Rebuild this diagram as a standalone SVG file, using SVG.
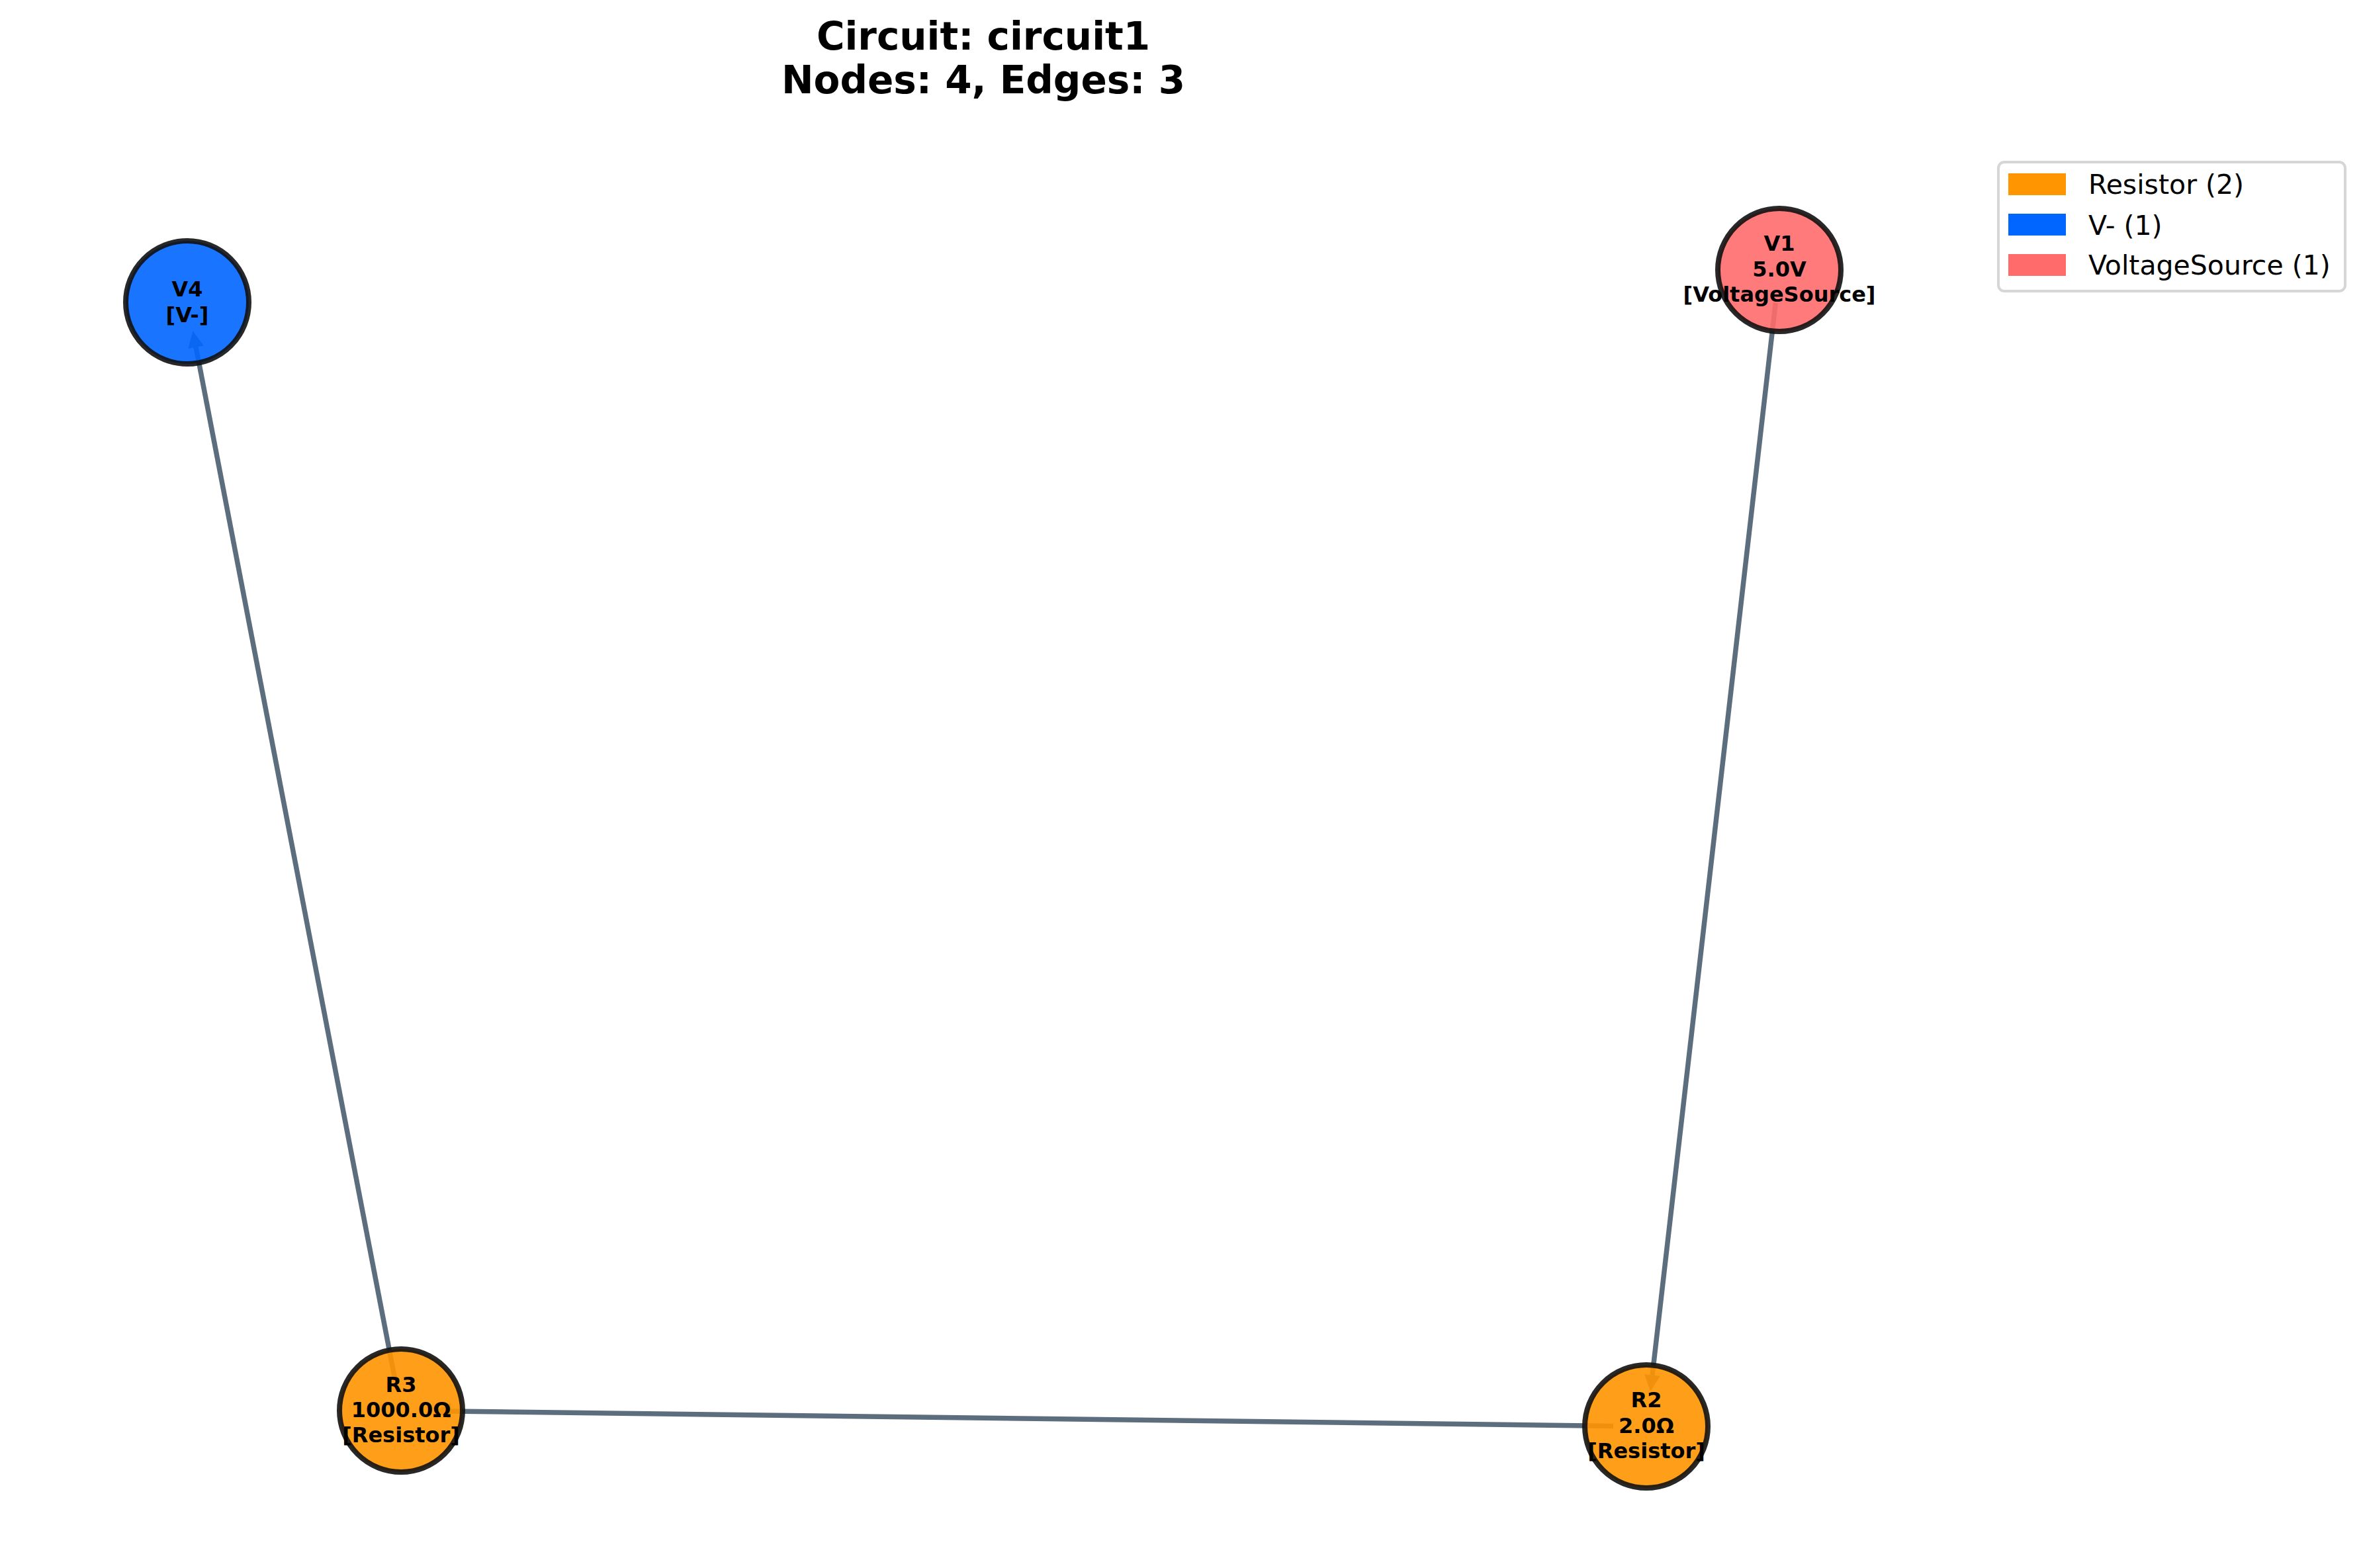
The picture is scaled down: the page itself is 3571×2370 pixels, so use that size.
<svg xmlns="http://www.w3.org/2000/svg" width="3571" height="2370" viewBox="0 0 3571 2370">
<style>
.title{font-family:"DejaVu Sans","Liberation Sans",sans-serif;font-weight:bold;font-size:58px;fill:#000;text-anchor:middle}
.lbl{font-family:"DejaVu Sans","Liberation Sans",sans-serif;font-weight:bold;font-size:32px;fill:#000;text-anchor:middle}
.leg{font-family:"DejaVu Sans","Liberation Sans",sans-serif;font-size:41px;fill:#000}
.node{stroke:#111;stroke-opacity:0.9;stroke-width:8;fill-opacity:0.9}
.edge{stroke:#34495e;stroke-width:7.5;fill:none;marker-end:url(#arr)}
</style>
<defs>
<marker id="arr" markerUnits="userSpaceOnUse" orient="auto" refX="0" refY="0" markerWidth="30" markerHeight="30" viewBox="0 -15 30 30" overflow="visible">
<path d="M0,-12 L25,0 L0,12 z" fill="#34495e"/>
</marker>
</defs>
<rect width="3571" height="2370" fill="#fff"/>
<g id="title">
<text class="title" x="1486" y="75">Circuit: circuit1</text>
<text class="title" x="1486" y="141">Nodes: 4, Edges: 3</text>
</g>
<g id="connectors" opacity="0.8">
<line class="edge" x1="2683.3" y1="457.7" x2="2497.0" y2="2078.5"/>
<line class="edge" x1="2438.0" y1="2155.4" x2="681.0" y2="2132.9"/>
<line class="edge" x1="596.5" y1="2082.9" x2="296.1" y2="524.7"/>
</g>
<g id="node-V4">
<circle class="node" cx="283" cy="457" r="93" fill="#0066ff"/>
<text class="lbl" x="283" y="448">V4</text>
<text class="lbl" x="283" y="487">[V-]</text>
</g>
<g id="node-V1">
<circle class="node" cx="2689" cy="408" r="93" fill="#ff6b6b"/>
<text class="lbl" x="2689" y="379">V1</text>
<text class="lbl" x="2689" y="418">5.0V</text>
<text class="lbl" x="2689" y="456">[VoltageSource]</text>
</g>
<g id="node-R3">
<circle class="node" cx="606" cy="2132" r="93" fill="#ff9500"/>
<text class="lbl" x="606" y="2104">R3</text>
<text class="lbl" x="606" y="2142">1000.0Ω</text>
<text class="lbl" x="606" y="2180">[Resistor]</text>
</g>
<g id="node-R2">
<circle class="node" cx="2488" cy="2156" r="93" fill="#ff9500"/>
<text class="lbl" x="2488" y="2127">R2</text>
<text class="lbl" x="2488" y="2166">2.0Ω</text>
<text class="lbl" x="2488" y="2204">[Resistor]</text>
</g>
<g id="legend">
<rect x="3020" y="245" width="524" height="195" rx="9" fill="#fff" fill-opacity="0.8" stroke="#d6d6d6" stroke-width="4"/>
<rect x="3035" y="262" width="87" height="33" fill="#ff9500"/>
<text class="leg" x="3156" y="293">Resistor (2)</text>
<rect x="3035" y="323" width="87" height="33" fill="#0066ff"/>
<text class="leg" x="3156" y="355">V- (1)</text>
<rect x="3035" y="384" width="87" height="33" fill="#ff6b6b"/>
<text class="leg" x="3156" y="415">VoltageSource (1)</text>
</g>
</svg>
